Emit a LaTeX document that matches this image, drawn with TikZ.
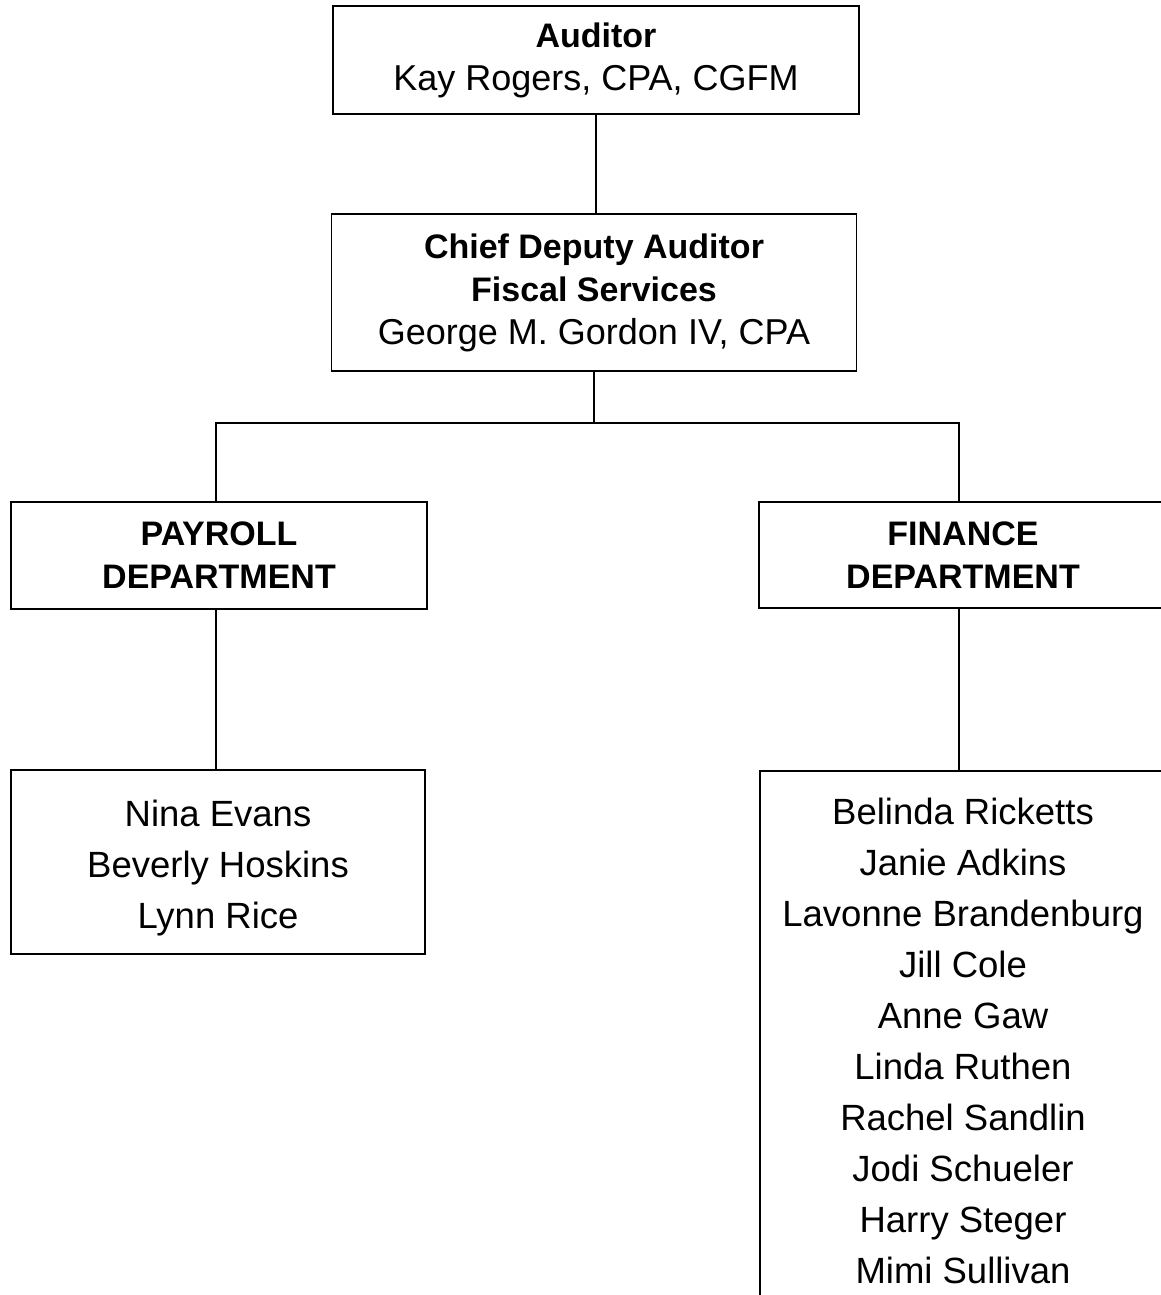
\documentclass[tikz,border=0pt]{standalone}
\usepackage{fontspec}
\setmainfont{Liberation Sans}
\newcommand\hbold[1]{{\fontsize{34}{43}\selectfont\bfseries #1}}
\begin{document}
\begin{tikzpicture}[x=1pt,y=-1pt,
  box/.style={draw,line width=1.6pt,align=center,inner sep=0pt},
  head/.style={box,font=\fontsize{36}{43}\selectfont},
  list/.style={box,font=\fontsize{36.5}{51}\selectfont},
  link/.style={line width=1.6pt}]
\useasboundingbox (0,0) rectangle (1161,1295);
\clip (0,0) rectangle (1161,1295);
\node[head,minimum width=526pt,minimum height=108pt] (aud) at (596,60)
  {\hbold{Auditor}\\Kay Rogers, CPA, CGFM};
\node[head,minimum width=525pt,minimum height=157pt] (chief) at (594,292.5)
  {\hbold{Chief Deputy Auditor}\\\hbold{Fiscal Services}\\George M. Gordon IV, CPA};
\node[head,minimum width=416pt,minimum height=107pt] (pay) at (219,555.5)
  {\hbold{PAYROLL}\\\hbold{DEPARTMENT}};
\node[head,minimum width=408pt,minimum height=106pt] (fin) at (963,555)
  {\hbold{FINANCE}\\\hbold{DEPARTMENT}};
\node[list,minimum width=414pt,minimum height=184pt] (paym) at (218,862)
  {\rule{0pt}{38pt}Nina Evans\\Beverly Hoskins\\Lynn Rice};
\node[list,minimum width=406pt,minimum height=539pt] (finm) at (963,1040.5)
  {Belinda Ricketts\\Janie Adkins\\Lavonne Brandenburg\\Jill Cole\\Anne Gaw\\Linda Ruthen\\Rachel Sandlin\\Jodi Schueler\\Harry Steger\\Mimi Sullivan};
\coordinate (bus) at (594,423);
\draw[link] (aud.south) -- (aud.south |- chief.north);
\draw[link] (chief.south) -- (bus);
\draw[link] (pay.north -| 216,0) |- (bus) -| (fin.north -| 959,0);
\draw[link] (pay.south -| 216,0) -- (paym.north -| 216,0);
\draw[link] (fin.south -| 959,0) -- (finm.north -| 959,0);
\end{tikzpicture}
\end{document}
